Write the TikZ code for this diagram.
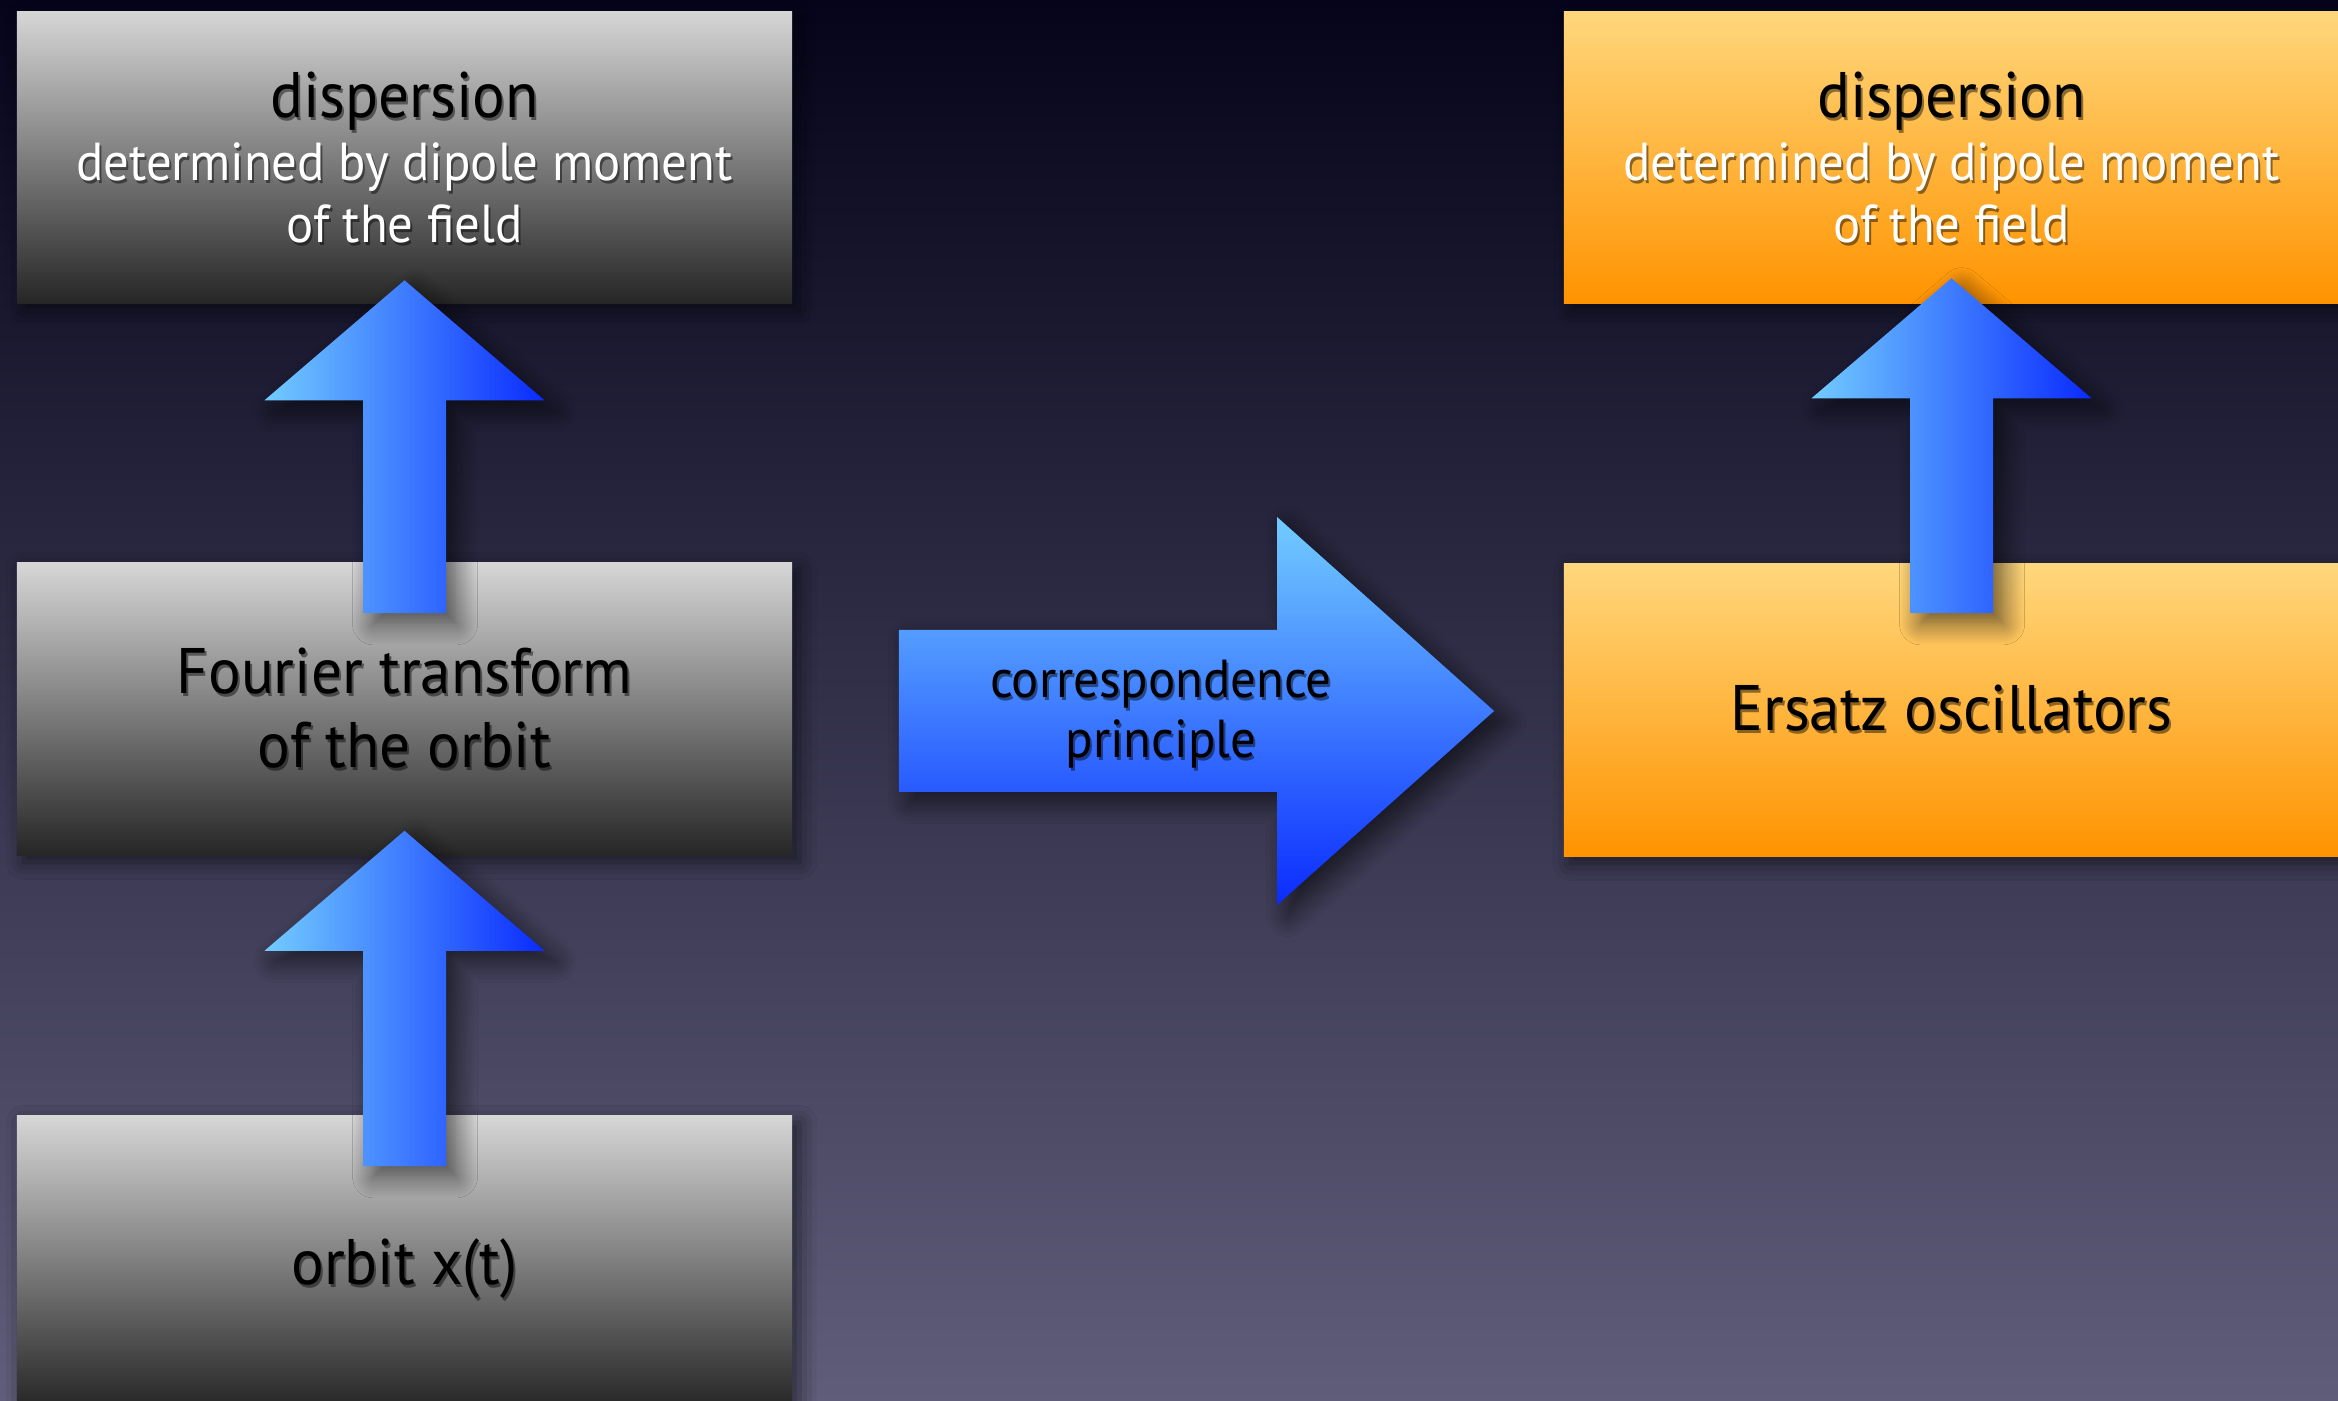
\documentclass[tikz,border=0pt]{standalone}
\usepackage{fontspec}
\setmainfont{PT Sans}[FakeStretch=0.95]
\usetikzlibrary{calc,shadows.blur}

\definecolor{bgtop}{HTML}{05041A}
\definecolor{bgbottom}{HTML}{5F5D79}
\definecolor{graytop}{HTML}{D6D6D6}
\definecolor{graybottom}{HTML}{262626}
\definecolor{orangetop}{HTML}{FFD77C}
\definecolor{orangebottom}{HTML}{FF9300}
\definecolor{bluelight}{HTML}{72CCFF}
\definecolor{bluedeep}{HTML}{0A2BFF}

\tikzset{
  boxbase/.style={rectangle, inner sep=0pt, minimum width=7.75cm, minimum height=2.92cm,
    blur shadow={shadow xshift=2pt, shadow yshift=-2pt, shadow blur radius=5pt, shadow opacity=55}},
  graybox/.style={boxbase, top color=graytop, bottom color=graybottom},
  orangebox/.style={boxbase, top color=orangetop, bottom color=orangebottom},
  bigtext/.style={anchor=base, inner sep=0pt, font=\fontsize{18.3}{22}\selectfont},
  smalltext/.style={anchor=base, inner sep=0pt, font=\fontsize{15.2}{19}\selectfont},
  arrowshadow/.style={blur shadow={shadow xshift=3pt, shadow yshift=-3pt,
    shadow blur radius=6pt, shadow blur steps=12, shadow opacity=60}},
  upshade/.style={left color=bluelight, right color=bluedeep, arrowshadow},
  rightshade/.style={top color=bluelight, bottom color=bluedeep, arrowshadow},
}

% text with a soft dark drop shadow behind it
\newcommand\shadowtext[4]{%
  \node[#3, text=black, text opacity=.45] at ($(#2)+(2,3)$) {#4};
  \node[#3] (#1) at (#2) {#4};}

% upward block arrow: #1 tip, #2 bottom of the shaft
\newcommand\blockup[2]{%
  \path[upshade] (#1) -- ($(#1)+(140,120)$) -- ($(#1)+(41.5,120)$) -- ($(#2)+(41.5,0)$)
    -- ($(#2)+(-41.5,0)$) -- ($(#1)+(-41.5,120)$) -- ($(#1)+(-140,120)$) -- cycle;}

\begin{document}
\begin{tikzpicture}[x=0.01cm, y=-0.01cm]
  % backdrop
  \shade[top color=bgtop, bottom color=bgbottom] (0,0) rectangle (2338,1401);
  \useasboundingbox (0,0) rectangle (2338,1401);

  % boxes
  \node[graybox]   (disp)    at (404.5,157.5)  {};
  \node[graybox]   (fourier) at (404.5,709)    {};
  \node[graybox]   (orbit)   at (404.5,1262)   {};
  \node[orangebox] (dispR)   at (1951.5,157.5) {};
  \node[orangebox] (ersatz)  at (1951.5,710)   {};

  % box texts
  \coordinate (t1) at ($(disp.north)+(0,107)$);
  \coordinate (t2) at ($(disp.north)+(0,170)$);
  \coordinate (t3) at ($(disp.north)+(0,232)$);
  \shadowtext{dispA}{t1}{bigtext, text=black}{dispersion}
  \shadowtext{dispB}{t2}{smalltext, text=white}{determined by dipole moment}
  \shadowtext{dispC}{t3}{smalltext, text=white}{of the field}

  \coordinate (r1) at ($(dispR.north)+(0,107)$);
  \coordinate (r2) at ($(dispR.north)+(0,170)$);
  \coordinate (r3) at ($(dispR.north)+(0,232)$);
  \shadowtext{dispRA}{r1}{bigtext, text=black}{dispersion}
  \shadowtext{dispRB}{r2}{smalltext, text=white}{determined by dipole moment}
  \shadowtext{dispRC}{r3}{smalltext, text=white}{of the field}

  \coordinate (f1) at ($(fourier.north)+(0,131)$);
  \coordinate (f2) at ($(fourier.north)+(0,205)$);
  \shadowtext{fourA}{f1}{bigtext, text=black}{Fourier transform}
  \shadowtext{fourB}{f2}{bigtext, text=black}{of the orbit}

  \coordinate (o1) at ($(orbit.north)+(0,169)$);
  \shadowtext{orbA}{o1}{bigtext, text=black}{orbit x(t)}

  \coordinate (e1) at ($(ersatz.north)+(0,167)$);
  \shadowtext{ersA}{e1}{bigtext, text=black}{Ersatz oscillators}

  % upward arrows between the stacked boxes
  \coordinate (u1tip) at ($(disp.south)+(0,-24)$);
  \coordinate (u1bot) at ($(fourier.north)+(0,51)$);
  \blockup{u1tip}{u1bot}
  \coordinate (u2tip) at ($(fourier.south)+(0,-25)$);
  \coordinate (u2bot) at ($(orbit.north)+(0,51)$);
  \blockup{u2tip}{u2bot}
  \coordinate (u3tip) at ($(dispR.south)+(0,-26)$);
  \coordinate (u3bot) at ($(ersatz.north)+(0,50)$);
  \blockup{u3tip}{u3bot}

  % the correspondence arrow
  \coordinate (htail) at ($(fourier.east)+(106,2)$);
  \coordinate (htip)  at ($(ersatz.west)+(-69,1)$);
  \path[rightshade] ($(htail)+(0,-81)$) -- ($(htip)+(-217,-81)$) -- ($(htip)+(-217,-194)$)
    -- (htip) -- ($(htip)+(-217,194)$) -- ($(htip)+(-217,81)$) -- ($(htail)+(0,81)$) -- cycle;
  \coordinate (c1) at ($(htail)+(262,-13)$);
  \coordinate (c2) at ($(htail)+(262,47)$);
  \shadowtext{corrA}{c1}{smalltext, text=black}{correspondence}
  \shadowtext{corrB}{c2}{smalltext, text=black}{principle}
\end{tikzpicture}
\end{document}
